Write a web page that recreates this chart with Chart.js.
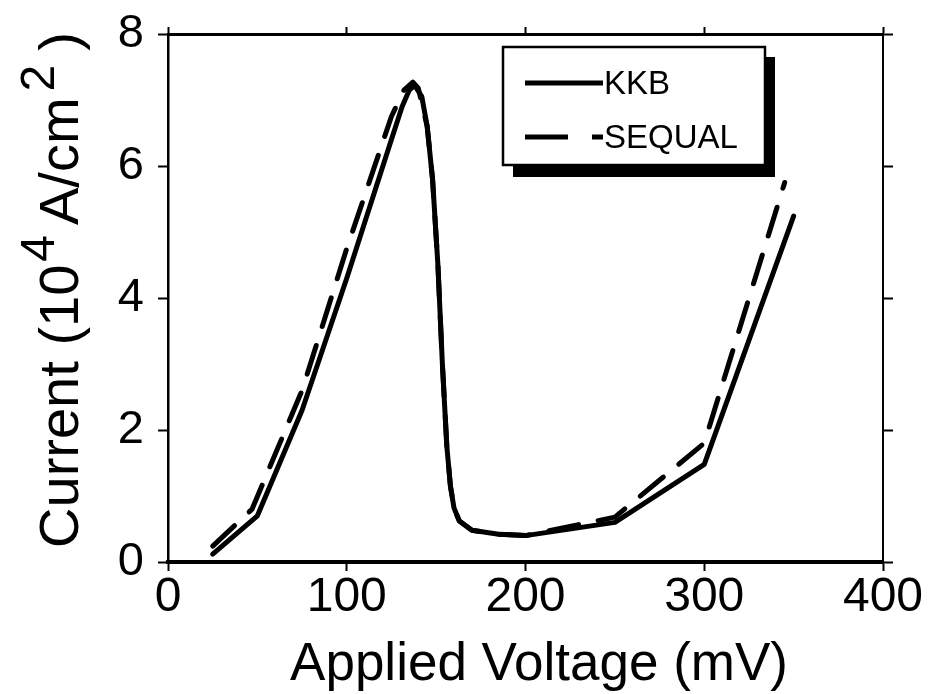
<!DOCTYPE html>
<html>
<head>
<meta charset="utf-8">
<title>Current vs Applied Voltage</title>
<script src="https://cdn.jsdelivr.net/npm/chart.js@4.4.1/dist/chart.umd.min.js"></script>
<style>
  html, body { margin: 0; padding: 0; background: #fff; }
  canvas { display: block; }
</style>
</head>
<body>
<canvas id="ivChart" width="931" height="694"></canvas>
<script>
// I-V characteristic: KKB model against SEQUAL simulation

const kkbVoltage = [25, 50, 75, 100, 125, 131, 135, 138, 142, 145, 148, 151, 153.5, 156, 158, 160, 163, 170, 185, 200, 250, 300, 350];
const kkbCurrent = [0.12, 0.7, 2.3, 4.3, 6.4, 6.9, 7.15, 7.22, 7.05, 6.6, 5.8, 4.5, 3.0, 1.75, 1.15, 0.82, 0.62, 0.48, 0.42, 0.40, 0.6, 1.48, 5.24];

const sequalVoltage = [25, 47, 75, 100, 125, 132, 137, 140, 145, 148, 151, 153.5, 156, 158, 160, 163, 170, 185, 200, 250, 300, 345];
const sequalCurrent = [0.24, 0.8, 2.6, 4.75, 6.75, 7.15, 7.27, 7.18, 6.6, 5.8, 4.5, 3.0, 1.75, 1.15, 0.82, 0.62, 0.48, 0.42, 0.40, 0.68, 1.8, 5.75];

const seriesNames = ['KKB', 'SEQUAL'];
const xTicks = [0, 100, 200, 300, 400];
const yTicks = [0, 2, 4, 6, 8];

const FONT = "'Liberation Sans', Arial, Helvetica, sans-serif";

const toPoints = (xs, ys) => xs.map((x, i) => ({ x, y: ys[i] }));
const fixedTicks = list => scale => { scale.ticks = list.map(value => ({ value })); };

// boxed legend with a heavy drop shadow
const boxLegend = {
  id: 'boxLegend',
  afterDraw(chart, args, opts) {
    const { ctx } = chart;
    const { x, y, w, h, shadow } = opts;
    ctx.save();
    ctx.fillStyle = '#000';
    ctx.fillRect(x + shadow, y + shadow, w, h + 2);
    ctx.fillStyle = '#fff';
    ctx.fillRect(x, y, w, h);
    ctx.lineWidth = 2.5;
    ctx.strokeStyle = '#000';
    ctx.strokeRect(x, y, w, h);

    chart.data.datasets.forEach((ds, i) => {
      const ly = y + opts.rows[i];
      ctx.beginPath();
      ctx.setLineDash(opts.dashes[i]);
      ctx.lineWidth = 5;
      ctx.lineCap = 'butt';
      ctx.moveTo(x + opts.lineStart, ly);
      ctx.lineTo(x + opts.lineEnd, ly);
      ctx.stroke();
      ctx.setLineDash([]);
      ctx.fillStyle = '#000';
      ctx.font = opts.font;
      ctx.textBaseline = 'middle';
      ctx.fillText(ds.label, x + opts.lineEnd + 1, ly + 2);
    });
    ctx.restore();
  }
};

// axis titles; the y title carries raised exponents
const axisTitles = {
  id: 'axisTitles',
  afterDraw(chart, args, opts) {
    const { ctx } = chart;
    ctx.save();
    ctx.fillStyle = '#000';

    const xt = opts.x;
    ctx.font = `${xt.size}px ${FONT}`;
    ctx.textAlign = 'center';
    ctx.textBaseline = 'alphabetic';
    ctx.fillText(xt.text, xt.cx, xt.baseline);

    const yt = opts.y;
    const mainFont = `${yt.size}px ${FONT}`;
    const supFont = `${Math.round(yt.size * yt.supScale)}px ${FONT}`;
    ctx.translate(yt.baseline, yt.cy);
    ctx.rotate(-Math.PI / 2);
    ctx.textAlign = 'left';
    let total = 0;
    yt.parts.forEach(([txt, sup, gap]) => {
      ctx.font = sup ? supFont : mainFont;
      total += ctx.measureText(txt).width + gap;
    });
    let cx = -total / 2;
    yt.parts.forEach(([txt, sup, gap]) => {
      ctx.font = sup ? supFont : mainFont;
      ctx.fillText(txt, cx, sup ? -yt.size * yt.supRaise : 0);
      cx += ctx.measureText(txt).width + gap;
    });
    ctx.restore();
  }
};

const tickGrid = (len, width) => ({
  drawOnChartArea: false,
  drawTicks: true,
  tickLength: len,
  tickWidth: width,
  tickColor: '#000'
});

new Chart(document.getElementById('ivChart'), {
  type: 'line',
  data: {
    datasets: [
      {
        label: seriesNames[0],
        data: toPoints(kkbVoltage, kkbCurrent),
        borderColor: '#000',
        borderWidth: 5,
        borderJoinStyle: 'round',
        borderCapStyle: 'round',
        pointRadius: 0,
        tension: 0,
        fill: false
      },
      {
        label: seriesNames[1],
        data: toPoints(sequalVoltage, sequalCurrent),
        borderColor: '#000',
        borderWidth: 5,
        borderDash: [30, 20],
        borderCapStyle: 'round',
        borderJoinStyle: 'round',
        pointRadius: 0,
        tension: 0,
        fill: false
      }
    ]
  },
  options: {
    responsive: false,
    animation: false,
    events: [],
    layout: { padding: 0 },
    scales: {
      x: {
        type: 'linear',
        position: 'bottom',
        min: 0,
        max: 400,
        afterBuildTicks: fixedTicks(xTicks),
        afterFit: s => { s.height = 132; s.paddingLeft = 0; s.paddingRight = 0; },
        border: { display: true, color: '#000', width: 4 },
        grid: tickGrid(9, 2),
        ticks: { color: '#000', padding: -2, maxRotation: 0, font: { family: FONT, size: 48 } }
      },
      xTop: {
        type: 'linear',
        position: 'top',
        min: 0,
        max: 400,
        afterBuildTicks: fixedTicks(xTicks),
        afterFit: s => { s.height = 34; },
        border: { display: true, color: '#000', width: 3 },
        grid: tickGrid(7, 2),
        ticks: { display: false }
      },
      y: {
        type: 'linear',
        position: 'left',
        min: 0,
        max: 8,
        afterBuildTicks: fixedTicks(yTicks),
        afterFit: s => { s.width = 168; s.paddingTop = 0; s.paddingBottom = 0; },
        border: { display: true, color: '#000', width: 2.5 },
        grid: tickGrid(10, 2),
        ticks: { color: '#000', padding: 14, font: { family: FONT, size: 47 } }
      },
      yRight: {
        type: 'linear',
        position: 'right',
        min: 0,
        max: 8,
        afterBuildTicks: fixedTicks(yTicks),
        afterFit: s => { s.width = 48; s.paddingTop = 0; s.paddingBottom = 0; },
        border: { display: true, color: '#000', width: 2 },
        grid: tickGrid(10, 2),
        ticks: { display: false }
      }
    },
    plugins: {
      legend: { display: false },
      tooltip: { enabled: false },
      boxLegend: {
        x: 503, y: 47, w: 262, h: 118, shadow: 10,
        rows: [36, 90],
        lineStart: 22, lineEnd: 100,
        dashes: [[], [43, 24]],
        font: `33px ${FONT}`
      },
      axisTitles: {
        x: { text: 'Applied Voltage (mV)', size: 53, cx: 539, baseline: 680 },
        y: {
          baseline: 78, cy: 290, size: 56, supScale: 0.85, supRaise: 0.42,
          parts: [['Current (10', false, 3], ['4', true, 10], ['A/cm', false, 6], ['2', true, 14], [')', false, 0]]
        }
      }
    }
  },
  plugins: [boxLegend, axisTitles]
});
</script>
</body>
</html>
